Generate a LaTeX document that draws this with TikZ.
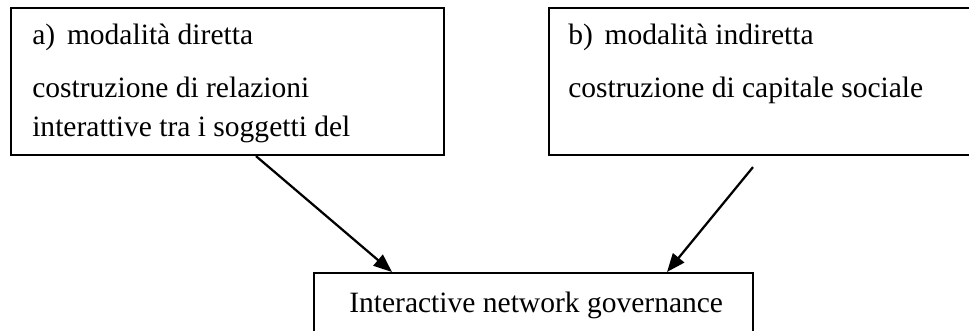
\documentclass[tikz,border=0pt]{standalone}
\usepackage{fontspec}
\setmainfont{Liberation Serif}
\usepackage{tikz}
\usetikzlibrary{arrows}
\usetikzlibrary{arrows.meta}

\begin{document}
\begin{tikzpicture}[
    >={Triangle[length=4.6mm, width=3.6mm]},
    box/.style={rectangle, draw, line width=1.5pt, inner sep=0pt},
    linetext/.style={inner sep=0pt, anchor=base west, font=\fontsize{21}{28}\selectfont},
    every edge/.append style={draw, ->, line width=1.6pt}
]
\clip[use as bounding box] (0, 0) rectangle (24.225, 8.25);

% Boxes :
\node[box, anchor=north west, minimum width=10.825cm, minimum height=3.675cm] (boxA) at (0.25, 8.075) {};
\node[box, anchor=north west, minimum width=11.5cm, minimum height=3.675cm] (boxB) at (13.7, 8.075) {};
\node[box, anchor=north west, minimum width=10.975cm, minimum height=2.2cm] (boxC) at (7.825, 1.45) {};

% Texts :
\node[linetext] (titleA) at (0.8, 7.125) {a)\hspace{0.4em}modalità diretta};
\node[linetext] (descA1) at (0.8, 5.825) {costruzione di relazioni};
\node[linetext] (descA2) at (0.8, 4.85) {interattive tra i soggetti del};

\node[linetext] (titleB) at (14.2, 7.125) {b)\hspace{0.4em}modalità indiretta};
\node[linetext] (descB) at (14.2, 5.825) {costruzione di capitale sociale};

\node[linetext] (textC) at (8.725, 0.45) {Interactive network governance};

% Edges :
\coordinate (fromA) at ([xshift=6.15cm]boxA.south west);
\coordinate (toA) at ([xshift=1.975cm]boxC.north west);
\coordinate (fromB) at ([xshift=5.125cm, yshift=-0.275cm]boxB.south west);
\coordinate (toB) at ([xshift=8.85cm]boxC.north west);

\draw (fromA) edge (toA);
\draw (fromB) edge (toB);

\end{tikzpicture}
\end{document}
